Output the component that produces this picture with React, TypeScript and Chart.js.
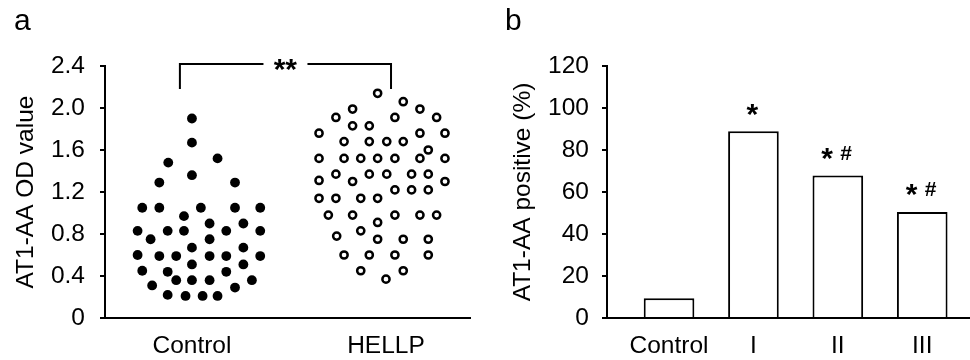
import React, { useEffect, useRef } from 'react';
import { Chart, registerables } from 'chart.js';

Chart.register(...registerables);

const FONT = "'Liberation Sans', Arial, Helvetica, sans-serif";

// ---------- Panel a: scatter ----------
const scatterCategories = ['Control', 'HELLP'];
const scatterPanelLabel = 'a';
const scatterYTitle = 'AT1-AA OD value';
const scatterYTicks = [0, 0.4, 0.8, 1.2, 1.6, 2.0, 2.4];
const scatterSig = '**';
const controlValues = [
  1.9, 1.67, 1.48, 1.52, 1.36, 1.29, 1.29, 1.05, 1.05, 1.05, 1.05, 1.05, 0.97, 0.9, 0.9,
  0.83, 0.83, 0.83, 0.83, 0.83, 0.75, 0.75, 0.67, 0.67, 0.6, 0.59, 0.59, 0.59, 0.59, 0.59,
  0.51, 0.51, 0.45, 0.44, 0.44, 0.36, 0.36, 0.36, 0.36, 0.31, 0.29, 0.22, 0.21, 0.21, 0.21,
];
const controlJitter = [
  0, 0, -0.122, 0.132, 0, -0.168, 0.222, -0.256, -0.168, 0.046, 0.222, 0.352, -0.041, 0.091, 0.265,
  -0.28, -0.125, -0.041, 0.177, 0.352, -0.213, 0.091, 0, 0.265, -0.28, -0.168, -0.081, 0.091, 0.177, 0.352,
  0, 0.265, -0.256, -0.125, 0.177, -0.081, 0, 0.091, 0.309, -0.205, 0.222, -0.125, -0.033, 0.055, 0.132,
];
const hellpValues = [
  2.14, 2.06, 1.99, 1.99, 1.91, 1.91, 1.91, 1.83, 1.83, 1.76, 1.76, 1.76,
  1.68, 1.68, 1.68, 1.68, 1.6,
  1.52, 1.52, 1.52, 1.52, 1.52, 1.52, 1.52,
  1.37, 1.37, 1.37, 1.37, 1.37, 1.31, 1.3, 1.3,
  1.22, 1.22, 1.22, 1.14, 1.14, 1.14, 1.14,
  0.98, 0.98, 0.98, 0.98, 0.98, 0.91, 0.83, 0.78, 0.75, 0.75, 0.75,
  0.6, 0.6, 0.6, 0.6, 0.45, 0.45, 0.37,
];
const hellpJitter = [
  -0.043, 0.089, -0.172, 0.175, -0.258, 0.046, 0.261, -0.172, -0.086, -0.345, 0.175, 0.304,
  -0.216, -0.086, 0.004, 0.089, 0.218,
  -0.345, -0.216, -0.13, -0.043, 0.046, 0.175, 0.304,
  -0.258, -0.086, 0.004, 0.132, 0.218, -0.345, -0.172, 0.304,
  0.046, 0.132, 0.218, -0.345, -0.258, -0.13, -0.043,
  -0.297, -0.172, 0.046, 0.175, 0.261, -0.043, -0.13, -0.254, -0.043, 0.089, 0.218,
  -0.216, -0.086, 0.046, 0.218, -0.13, 0.089, 0,
];
const bracketX = [-0.062, 1.026];
const bracketY = [2.42, 2.18];

// ---------- Panel b: bars ----------
const barCategories = ['Control', 'I', 'II', 'III'];
const barPanelLabel = 'b';
const barYTitle = 'AT1-AA positive (%)';
const barYTicks = [0, 20, 40, 60, 80, 100, 120];
const barValues = [9.4, 88.9, 67.8, 50.5];
const barStars = ['', '*', '*', '*'];
const barHashes = ['', '', '#', '#'];

function drawCentered(ctx: CanvasRenderingContext2D, text: string, cx: number, cy: number) {
  ctx.textAlign = 'left';
  ctx.textBaseline = 'alphabetic';
  const m = ctx.measureText(text);
  const x = cx - (m.actualBoundingBoxRight - m.actualBoundingBoxLeft) / 2;
  const y = cy + (m.actualBoundingBoxAscent - m.actualBoundingBoxDescent) / 2;
  ctx.fillText(text, x, y);
}

const axisFont = { family: FONT, size: 24.5 };

function ScatterPanel() {
  const ref = useRef<HTMLCanvasElement | null>(null);
  useEffect(() => {
    if (!ref.current) return;
    const overlay = {
      id: 'overlayA',
      afterDraw(chart: any) {
        const ctx = chart.ctx as CanvasRenderingContext2D;
        const xs = chart.scales.x;
        const ys = chart.scales.y;
        ctx.save();
        ctx.fillStyle = '#000';
        ctx.font = `30px ${FONT}`;
        ctx.textAlign = 'left';
        ctx.textBaseline = 'alphabetic';
        ctx.fillText(scatterPanelLabel, 14, 30);
        const x1 = xs.getPixelForValue(bracketX[0]);
        const x2 = xs.getPixelForValue(bracketX[1]);
        const yt = ys.getPixelForValue(bracketY[0]);
        const yb = ys.getPixelForValue(bracketY[1]);
        const mid = (x1 + x2) / 2;
        ctx.strokeStyle = '#000';
        ctx.lineWidth = 2;
        ctx.beginPath();
        ctx.moveTo(x1, yb);
        ctx.lineTo(x1, yt);
        ctx.lineTo(mid - 22, yt);
        ctx.moveTo(mid + 22, yt);
        ctx.lineTo(x2, yt);
        ctx.lineTo(x2, yb);
        ctx.stroke();
        ctx.font = `bold 30px ${FONT}`;
        drawCentered(ctx, scatterSig, mid, yt + 1);
        ctx.restore();
      },
    };
    const chart = new Chart(ref.current, {
      type: 'scatter',
      data: {
        datasets: [
          {
            data: controlValues.map((v, i) => ({ x: 0 + controlJitter[i], y: v })),
            pointRadius: 4.9,
            pointBackgroundColor: '#000',
            pointBorderColor: '#000',
            pointBorderWidth: 0,
            clip: false as any,
          },
          {
            data: hellpValues.map((v, i) => ({ x: 1 + hellpJitter[i], y: v })),
            pointRadius: 3.6,
            pointBackgroundColor: '#fff',
            pointBorderColor: '#000',
            pointBorderWidth: 2.5,
            clip: false as any,
          },
        ],
      },
      options: {
        responsive: false,
        animation: false,
        events: [],
        layout: { padding: { top: 66, right: 15, left: 0, bottom: 0 } },
        plugins: { legend: { display: false }, tooltip: { enabled: false } },
        scales: {
          x: {
            type: 'linear',
            min: -0.448,
            max: 1.433,
            afterBuildTicks: (s: any) => {
              s.ticks = scatterCategories.map((_, i) => ({ value: i }));
            },
            afterFit: (s: any) => {
              s.height = 42;
            },
            grid: { display: false, drawTicks: false },
            border: { display: true, color: '#000', width: 2 },
            ticks: {
              callback: (v: any) => scatterCategories[v] ?? '',
              font: axisFont,
              color: '#000',
              padding: 14,
              maxRotation: 0,
              autoSkip: false,
            },
          },
          y: {
            type: 'linear',
            min: 0,
            max: 2.4,
            afterBuildTicks: (s: any) => {
              s.ticks = scatterYTicks.map((v) => ({ value: v }));
            },
            afterFit: (s: any) => {
              s.width = 105;
            },
            grid: { drawOnChartArea: false, drawTicks: true, tickLength: 5, color: '#000', lineWidth: 2 },
            border: { display: true, color: '#000', width: 2 },
            ticks: {
              callback: (v: any) => (v === 0 ? '0' : Number(v).toFixed(1)),
              font: axisFont,
              color: '#000',
              padding: 15,
            },
            title: {
              display: true,
              text: scatterYTitle,
              font: axisFont,
              color: '#000',
              padding: { top: 12, bottom: 0 },
            },
          },
        },
      },
      plugins: [overlay],
    } as any);
    return () => chart.destroy();
  }, []);
  return <canvas ref={ref} width={485} height={360} style={{ display: 'block', width: 485, height: 360 }} />;
}

function BarPanel() {
  const ref = useRef<HTMLCanvasElement | null>(null);
  useEffect(() => {
    if (!ref.current) return;
    const overlay = {
      id: 'overlayB',
      afterDraw(chart: any) {
        const ctx = chart.ctx as CanvasRenderingContext2D;
        ctx.save();
        ctx.fillStyle = '#000';
        ctx.font = `30px ${FONT}`;
        ctx.textAlign = 'left';
        ctx.textBaseline = 'alphabetic';
        ctx.fillText(barPanelLabel, 20, 30);
        const meta = chart.getDatasetMeta(0);
        meta.data.forEach((el: any, i: number) => {
          const star = barStars[i];
          const hash = barHashes[i];
          if (!star && !hash) return;
          const cy = el.y - 22;
          if (hash) {
            ctx.font = `bold 30px ${FONT}`;
            drawCentered(ctx, star, el.x - 10.5, cy);
            ctx.font = `bold 21px ${FONT}`;
            drawCentered(ctx, hash, el.x + 8.5, cy - 1);
          } else {
            ctx.font = `bold 30px ${FONT}`;
            drawCentered(ctx, star, el.x - 1, cy + 1);
          }
        });
        ctx.restore();
      },
    };
    const chart = new Chart(ref.current, {
      type: 'bar',
      data: {
        datasets: [
          {
            data: barValues.map((v, i) => ({ x: i, y: v })),
            backgroundColor: '#fff',
            borderColor: '#000',
            borderWidth: 2,
            borderSkipped: 'start',
            categoryPercentage: 1,
            barPercentage: 0.6,
          },
        ],
      },
      options: {
        responsive: false,
        animation: false,
        events: [],
        layout: { padding: { top: 66, right: 0, left: 0, bottom: 0 } },
        plugins: { legend: { display: false }, tooltip: { enabled: false } },
        scales: {
          x: {
            type: 'linear',
            offset: false,
            min: -0.735,
            max: 3.566,
            afterBuildTicks: (s: any) => {
              s.ticks = barCategories.map((_, i) => ({ value: i }));
            },
            afterFit: (s: any) => {
              s.height = 42;
            },
            grid: { display: false, drawTicks: false, offset: false },
            border: { display: true, color: '#000', width: 2 },
            ticks: {
              callback: (v: any) => barCategories[v] ?? '',
              font: axisFont,
              color: '#000',
              padding: 14,
              maxRotation: 0,
              autoSkip: false,
            },
          },
          y: {
            type: 'linear',
            min: 0,
            max: 120,
            afterBuildTicks: (s: any) => {
              s.ticks = barYTicks.map((v) => ({ value: v }));
            },
            afterFit: (s: any) => {
              s.width = 122;
            },
            grid: { drawOnChartArea: false, drawTicks: true, tickLength: 5, color: '#000', lineWidth: 2 },
            border: { display: true, color: '#000', width: 2 },
            ticks: {
              callback: (v: any) => String(v),
              font: axisFont,
              color: '#000',
              padding: 13,
            },
            title: {
              display: true,
              text: barYTitle,
              font: axisFont,
              color: '#000',
              padding: { top: 24, bottom: 0 },
            },
          },
        },
      },
      plugins: [overlay],
    } as any);
    return () => chart.destroy();
  }, []);
  return <canvas ref={ref} width={485} height={360} style={{ display: 'block', width: 485, height: 360 }} />;
}

export default function App() {
  return (
    <div
      style={{
        position: 'fixed',
        left: 0,
        top: 0,
        width: 970,
        height: 360,
        background: '#fff',
        display: 'flex',
        flexDirection: 'row',
      }}
    >
      <ScatterPanel />
      <BarPanel />
    </div>
  );
}
